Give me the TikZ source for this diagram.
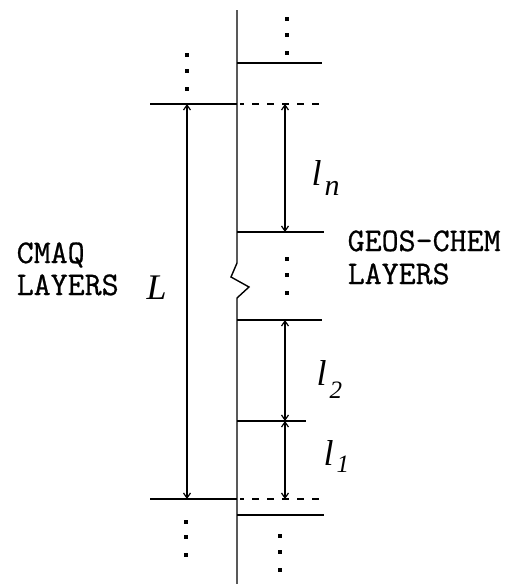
\documentclass[tikz,border=0pt]{standalone}
\usepackage{fontspec}
\newfontfamily\symfont{Liberation Serif}
\newfontfamily\monofont[AutoFakeBold=0.8]{Latin Modern Mono}
\usetikzlibrary{arrows.meta}
\begin{document}
\begin{tikzpicture}[x=1pt,y=-1pt,line width=1.4pt,
  dashlayer/.style={dash pattern=on 7pt off 8pt,dash phase=3pt},
  dimarrow/.style={{Straight Barb[length=5pt,width=7pt]}-{Straight Barb[length=5pt,width=7pt]},line width=1.2pt},
  dotmark/.style={fill=black},
  lbl/.style={font=\monofont\bfseries\fontsize{33}{36}\selectfont,inner sep=0pt,anchor=base west},
  sym/.style={font=\symfont\itshape\fontsize{36}{36}\selectfont,inner sep=0pt,anchor=base west}]
\useasboundingbox (0,0) rectangle (512,584);
% main axis with break mark
\draw (237,10) -- (237,263) -- (231,277) -- (249,287) -- (237,298) -- (237,584);
% GEOS-CHEM layer boundaries
\draw (237,63) -- (322,63);
\draw (237,232) -- (324,232);
\draw (237,320) -- (322,320);
\draw (237,421) -- (306,421);
\draw (237,515) -- (324,515);
% CMAQ layer boundaries
\draw (150,104) -- (237,104);
\draw[dashlayer] (240,104) -- (322,104);
\draw (150,499) -- (237,499);
\draw[dashlayer] (240,499) -- (321,499);
% arrow end points
\coordinate (Ltop) at (187,104);
\coordinate (Lbot) at (187,499);
\coordinate (ntop) at (285,104);
\coordinate (nbot) at (285,232);
\coordinate (twotop) at (285,320);
\coordinate (mid) at (285,421);
\coordinate (onebot) at (285,499);
\draw[dimarrow] (Ltop) -- (Lbot);
\draw[dimarrow] (ntop) -- (nbot);
\draw[dimarrow] (twotop) -- (mid);
\draw[dimarrow] (mid) -- (onebot);
% dots
\foreach \x/\y in {187/55,187/71,187/89, 287/19,287/35,287/53, 287/259,287/275,287/293, 186/522,186/537,186/555, 280/536,280/552,280/570}
  \fill[dotmark] (\x-1.6,\y-1.6) rectangle (\x+1.6,\y+1.6);
% labels
\node[lbl] (cmaq1) at (16,263) {CMAQ};
\node[lbl] (cmaq2) at (16,295) {LAYERS};
\node[lbl] (geos1) at (347,251) {GEOS-CHEM};
\node[lbl] (geos2) at (347,284) {LAYERS};
\node[sym] (Lbl) at (146,299) {L};
\node[sym] (lnlbl) at (311,185) {l\hspace{3pt}\raisebox{-10pt}{\fontsize{30}{30}\selectfont n}};
\node[sym] (l2lbl) at (316,385) {l\hspace{3pt}\raisebox{-13pt}{\fontsize{25}{25}\selectfont 2}};
\node[sym] (l1lbl) at (323,465) {l\hspace{3pt}\raisebox{-7pt}{\fontsize{25}{25}\selectfont 1}};
\end{tikzpicture}
\end{document}
